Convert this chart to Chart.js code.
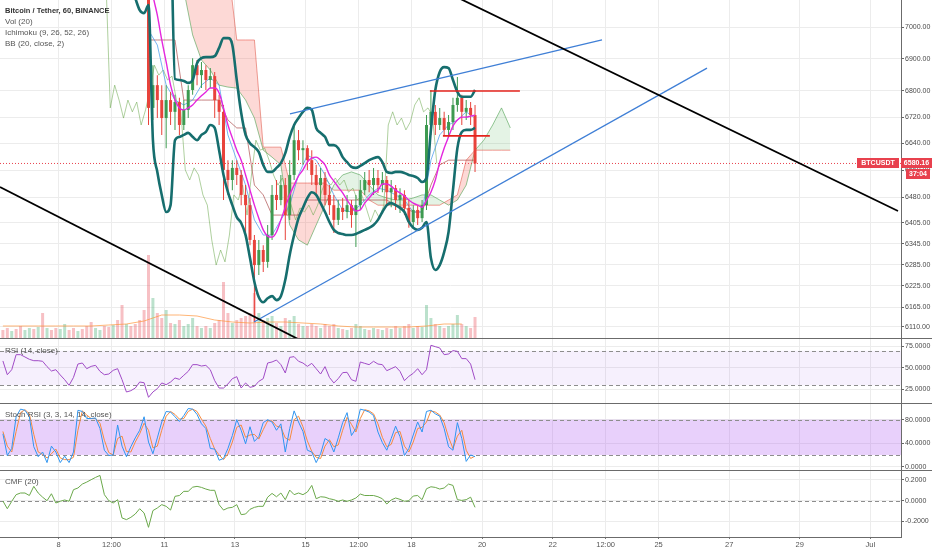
<!DOCTYPE html>
<html>
<head>
<meta charset="utf-8">
<title>BTCUSDT 60</title>
<script src="https://cdn.jsdelivr.net/npm/chart.js@4.4.1/dist/chart.umd.min.js"></script>
<style>
html,body{margin:0;padding:0;background:#ffffff;}
#wrap{position:relative;width:932px;height:550px;overflow:hidden;background:#fff;}
canvas{position:absolute;left:0;display:block;}
.sep{position:absolute;left:0;width:932px;height:1px;background:#6b6b6b;}
</style>
</head>
<body>
<div id="wrap">
<canvas id="cMain" width="932" height="338" style="top:0px"></canvas>
<div class="sep" style="top:338px"></div>
<canvas id="cRsi" width="932" height="64" style="top:339px"></canvas>
<div class="sep" style="top:403px"></div>
<canvas id="cStoch" width="932" height="66" style="top:404px"></canvas>
<div class="sep" style="top:470px"></div>
<canvas id="cCmf" width="932" height="79" style="top:471px"></canvas>
</div>
<script>
// ---------------- DATA ----------------
const FONT = '"Liberation Sans", Arial, Helvetica, sans-serif';
const X_MIN = 6.343, X_MAX = 31.867;                 // days (June), x-axis window
const xTickVals   = [8, 9.5, 11, 13, 15, 16.5, 18, 20, 22, 23.5, 25, 27, 29, 31];
const xTickLabels = ['8','12:00','11','13','15','12:00','18','20','22','12:00','25','27','29','Jul'];
const priceTicks = [7000,6900,6800,6720,6640,6560,6480,6405,6345,6285,6225,6165,6110];
const P_MIN = 6079.6, P_MAX = 7086.3;
const legendLines = ['Bitcoin / Tether, 60, BINANCE','Vol (20)','Ichimoku (9, 26, 52, 26)','BB (20, close, 2)'];
const symbol = 'BTCUSDT', lastPrice = 6580.16, countdown = '37:04';

// candles (3h buckets)
const candleStart = 10.05, candleStep = 0.125;
const open = [7600,7580,7500,7400,
 7160,6748,6818,6772,6717,6772,6736,6766,6696,6742,
 6803,6880,6849,6865,6834,6846,6772,6736,6561,6531,
 6567,6546,6487,6457,6356,6284,6327,6293,6370,6487,
 6472,6516,6428,6546,6650,6620,6626,6590,6546,6516,
 6537,6487,6457,6414,6449,6437,6457,6428,6457,6501,
 6531,6516,6537,6516,6531,6495,6507,6472,6487,6449,
 6408,6443,6419,6457,6696,6736,6696,6717,6681,6705,
 6757,6779,6736,6748,6726];
const high = [7640,7600,7520,7420,
 7180,6880,6849,6818,6818,6797,6788,6779,6772,6818,
 6902,6896,6890,6880,6871,6859,6788,6757,6590,6590,
 6590,6561,6516,6478,6370,6356,6341,6399,6516,6531,
 6546,6537,6590,6696,6681,6650,6635,6620,6576,6567,
 6555,6516,6487,6472,6478,6487,6472,6487,6531,6555,
 6561,6567,6561,6555,6543,6531,6516,6507,6501,6472,
 6457,6457,6472,6726,6803,6757,6748,6736,6726,6779,
 6843,6788,6772,6766,6757];
const low = [7560,7480,7380,7140,
 6696,6711,6717,6666,6626,6696,6681,6666,6681,6717,
 6788,6818,6809,6803,6809,6717,6696,6472,6487,6501,
 6516,6457,6370,6341,6124,6256,6264,6276,6356,6443,
 6457,6356,6414,6531,6590,6576,6561,6516,6487,6472,
 6457,6428,6376,6399,6414,6419,6391,6336,6443,6487,
 6495,6487,6493,6495,6457,6451,6443,6434,6428,6391,
 6391,6399,6408,6443,6666,6666,6681,6666,6660,6681,
 6736,6696,6711,6696,6555];
const close = [7580,7500,7400,7160,
 6748,6818,6772,6717,6772,6736,6766,6696,6742,6803,
 6880,6849,6865,6834,6846,6772,6736,6561,6531,6567,
 6546,6487,6457,6356,6284,6327,6293,6370,6487,6472,
 6516,6428,6546,6650,6620,6626,6590,6546,6516,6537,
 6487,6457,6414,6449,6437,6457,6428,6457,6501,6531,
 6516,6537,6516,6531,6495,6507,6472,6487,6449,6408,
 6443,6419,6457,6696,6736,6696,6717,6681,6705,6757,
 6779,6736,6748,6726,6580.16];

// Bollinger Bands (20, 2)
const bbStart = 10.175, bbStep = 0.125;
const bbUpper = [7400,7400,7400,7450,7500,7500,7480,7450,7350,
 6837,6834,6831,6825,6834,6886,6902,6905,6905,6908,6934,6965,6965,6943,6834,6733,6666,6641,6629,6614,
 6576,6555,6555,6567,6581,6611,6660,6696,6717,6736,6748,6742,6687,6672,6660,6635,6635,6626,6599,6584,
 6570,6567,6573,6581,6590,6596,6599,6584,6555,6552,6555,6555,6552,6546,6543,6537,6525,6537,6681,6803,
 6859,6874,6871,6834,6797,6782,6782,6782,6803];
const bbMid = [7350,7320,7280,7200,7102,7038,6959,6890,6818,
 6772,6748,6742,6748,6757,6772,6785,6797,6809,6809,6794,6748,6696,6657,6620,6590,6546,6501,6457,6419,
 6385,6367,6364,6379,6414,6451,6487,6516,6543,6561,6584,6596,6599,6590,6576,6546,6528,6510,6493,6472,
 6454,6440,6443,6463,6478,6493,6501,6519,6519,6513,6501,6493,6484,6472,6463,6457,6451,6472,6495,6531,
 6584,6626,6660,6693,6711,6720,6720,6723,6726];
const bbLower = [7092,7054,7044,7070,6650,6555,6487,6437,6457,
 6650,6660,6666,6672,6660,6650,6666,6675,6696,6687,6620,6546,6495,6457,6422,6405,6370,6304,6236,6193,
 6179,6190,6196,6185,6196,6242,6313,6370,6419,6449,6478,6495,6487,6463,6437,6408,6385,6376,6373,6370,
 6370,6373,6379,6385,6391,6399,6414,6437,6457,6463,6457,6449,6437,6408,6391,6385,6391,6408,6304,6270,
 6284,6321,6379,6501,6626,6675,6681,6681,6687];

// Ichimoku (9, 26, 52, 26) - 6h samples
const ichiStart = 10.55, ichiStep = 0.25, laggingShift = 26 / 24;
const tenkan = [6990,6943,6818,6772,6757,6772,6818,6840,6818,6666,6590,6516,6414,6370,6370,6414,6457,6546,6605,
 6590,6546,6487,6443,6437,6457,6487,6507,6501,6487,6472,6437,6437,6590,6666,6696,6711,6736,6717];
const kijun = [6959,6959,6959,6959,6772,6772,6772,6772,6772,6711,6687,6687,6516,6487,6428,6428,6428,6428,6472,
 6472,6472,6472,6472,6472,6472,6472,6472,6472,6457,6449,6437,6437,6516,6576,6590,6590,6590,6590];
const spanA = [7200,7200,7200,7200,7118,6975,6896,6865,6818,6812,6809,6772,6717,6620,6599,6576,6399,6356,6341,
 6399,6457,6516,6546,6555,6546,6516,6487,6478,6472,6472,6478,6487,6487,6472,6457,6472,6516,6620,6650,6696,6748,6687];
const spanB = [7200,7200,7200,7200,7200,7200,7200,7200,7200,7200,6959,6959,6959,6629,6629,6629,6522,6522,6522,
 6522,6522,6501,6501,6501,6501,6472,6457,6457,6457,6457,6457,6457,6457,6457,6472,6487,6590,6620,6620,6620,6620,6620];

// indicator panes - 3h samples
const indStart = 6.425, indStep = 0.125;
const volume = [8,10,7,9,12,8,10,9,11,25,10,8,10,9,14,8,10,7,9,12,16,10,8,12,11,13,18,33,14,12,14,18,28,
 83,40,25,20,28,15,14,18,12,14,20,12,10,12,10,15,18,56,25,15,18,20,22,25,45,25,18,20,22,15,
 12,20,18,22,14,12,12,14,12,10,14,12,14,10,9,8,10,14,12,9,8,10,9,8,10,9,12,10,12,14,
 10,12,11,33,20,14,12,10,12,14,23,14,12,10,21];
const volDirPre = 'ddudduudud' + 'udduuddudd' + 'duudduddud' + 'ddd';
const VOL_MAX = 338;
const volMAStart = 6.425, volMAStep = 0.5;
const volMA = [12,12,12,12,12,12,13,14,17,23,23,22,18,16,15,16,16,15,14,12,11,11,11,11,12,14,14];
const rsi = [58.2,42.2,48,65.5,65.5,62.8,60.1,58.5,58.5,57.8,51.6,46.5,48,41.9,36.4,29.8,39.1,54.6,55.8,49.2,
 51.9,53.1,46.1,42.2,43,47.3,49.2,36.4,22.1,23.6,26.7,33.7,32.9,15.9,22.1,26,32.6,30.6,33.7,38.4,
 36.8,41.5,46.1,53.9,53.9,52.3,53.1,48,35.3,26.7,26.7,31.4,37.6,39.9,26.7,32.6,27.5,28.7,34.5,37.6,
 55.8,57,59.3,53.9,44.2,62.4,63.2,57.8,55.8,51.9,55.4,49.2,43,51.6,39.1,32.6,37.6,44.6,45,36.4,
 34.5,57,55.4,53.9,57.8,54.6,53.9,46.9,49.2,51.6,46.1,35.3,40.3,43.8,49.2,42.2,48,76.4,74.8,73.3,
 65.5,66.3,70.2,69.4,60.9,60.9,54.6,36.4];
const stochK = [56,19,31,85,98,96,85,34,17,25,7,35,25,7,18,7,25,96,94,82,82,83,65,28,19,20,71,35,17,34,
 49,62,85,42,22,49,76,94,93,85,77,87,99,98,89,73,65,31,30,11,14,31,53,80,62,39,68,43,51,75,
 80,76,62,73,25,65,95,76,60,28,25,7,22,48,43,25,49,75,92,53,65,98,96,93,87,59,41,28,48,69,
 51,19,31,54,76,59,94,96,90,86,65,34,28,75,48,9,20,17];
const stochD = [60,35,25,60,92,97,90,55,25,21,15,22,30,15,12,12,16,62,95,88,82,82,74,45,24,20,48,52,26,25,
 42,56,74,62,32,35,62,86,94,89,81,82,94,98,94,81,69,48,30,20,12,22,42,67,71,50,54,55,47,63,
 78,78,69,67,49,45,80,86,68,44,26,16,14,35,46,34,37,62,84,72,59,82,97,95,90,73,50,34,38,58,
 60,35,25,42,65,67,76,95,93,88,75,50,31,52,62,28,14,18];
const cmf = [-0.003,-0.077,-0.006,0.058,0.074,0.074,0.05,0.138,0.074,0.034,0,0.067,-0.022,-0.006,0.007,-0.006,0.106,0.122,0.16,0.179,
 0.202,0.224,0.243,0.058,0,-0.022,0.01,-0.166,-0.182,-0.16,-0.128,-0.077,-0.118,-0.256,-0.095,-0.07,-0.038,-0.054,-0.09,0.042,
 0.05,0.09,0.09,0.13,0.138,0.128,0.112,0.1,0.1,-0.038,-0.09,-0.07,-0.064,-0.038,-0.134,-0.128,-0.083,-0.064,-0.054,-0.054,
 0.034,0.07,0.038,0.074,0.01,0.102,0.058,0.074,0.058,0.083,0.147,0.019,0.038,0.034,0.019,0.01,-0.006,0.007,-0.006,0.007,
 0.026,0.064,0.05,0.05,0.05,0.038,0.019,-0.032,0.007,0.026,0.013,-0.006,0,0.045,0.05,0.01,0.115,0.134,0.128,0.112,
 0.122,0.16,0.147,0.01,0.003,0.01,0.034,-0.064];
const rsiTicks = [75,50,25], rsiBand = [30,70], RSI_MIN = 9.3, RSI_MAX = 83.72;
const stochTicks = [80,40,0], stochBand = [20,80], ST_MIN = -5.62, ST_MAX = 106.7;
const cmfTicks = [0.2,0,-0.2], CMF_MIN = -0.349, CMF_MAX = 0.2856;

// drawings (time in days, price)
const trendBlack1 = [[6.343, 6510], [15.125, 6060]];
const trendBlack2 = [[19.091, 7106], [31.782, 6440]];
const trendBlue1  = [[14.558, 6730], [23.397, 6959]];
const trendBlue2  = [[13.538, 6124], [26.371, 6871]];
const levelRed1   = [[18.522, 6800], [21.071, 6800]];
const levelRed2   = [[18.89, 6663], [20.22, 6663]];

// ---------------- HELPERS ----------------
const ser = (start, step, vals) => vals.map((v, i) => ({x: start + i * step, y: v}));
const pts = arr => arr.map(p => ({x: p[0], y: p[1]}));
const C_UP = '#3d9a50', C_DN = '#e8433b', TAG = '#e8414e';
const candleT = close.map((_, i) => candleStart + i * candleStep);
const candleCol = close.map((c, i) => c >= open[i] ? C_UP : C_DN);
const volCol = volume.map((v, j) => {
  const upv = j < volDirPre.length ? volDirPre[j] === 'u' : close[j - volDirPre.length + 4] >= open[j - volDirPre.length + 4];
  return upv ? 'rgba(76,175,120,0.38)' : 'rgba(235,90,100,0.38)';
});

function xScale(showLabels) {
  return {
    type: 'linear', min: X_MIN, max: X_MAX, bounds: 'data', offset: false,
    afterBuildTicks: s => { s.ticks = xTickVals.map(v => ({value: v})); },
    afterFit: s => { s.height = showLabels ? 13 : 0; s.paddingLeft = 0; s.paddingRight = 0; },
    grid: {color: '#ececec', offset: false, drawTicks: showLabels, tickLength: 2, tickColor: '#777'},
    border: {display: showLabels, color: '#6b6b6b'},
    ticks: {display: showLabels, autoSkip: false, maxRotation: 0, padding: 1,
      font: {size: 7.5, family: FONT}, color: '#555',
      callback: (v, i) => xTickLabels[i]}
  };
}
function yScale(type, min, max, ticks, dec) {
  return {
    type, position: 'right', min, max, bounds: 'data',
    afterBuildTicks: s => { s.ticks = ticks.map(v => ({value: v})); },
    afterFit: s => { s.width = 31; s.paddingTop = 0; s.paddingBottom = 0; },
    grid: {color: '#ececec', tickLength: 3, tickColor: '#666'},
    border: {color: '#6b6b6b'},
    ticks: {autoSkip: false, padding: 1, font: {size: 7, family: FONT}, color: '#4a4a4a',
      callback: v => Number(v).toFixed(dec)}
  };
}
const baseOpts = {responsive: false, animation: false, events: [], layout: {padding: 0},
  plugins: {legend: {display: false}, tooltip: {enabled: false}}};
const line = (data, color, width, order, extra) => Object.assign({type: 'line', data, borderColor: color,
  borderWidth: width, pointRadius: 0, fill: false, order, yAxisID: 'y'}, extra || {});

// ---------------- MAIN PANE ----------------
const mainDeco = {
  id: 'mainDeco',
  afterDraw(chart) {
    const ctx = chart.ctx, ys = chart.scales.y, ca = chart.chartArea;
    ctx.save();
    ctx.textBaseline = 'middle'; ctx.textAlign = 'left';
    ctx.fillStyle = '#333'; ctx.font = 'bold 7.5px ' + FONT;
    ctx.fillText(legendLines[0], 5, 11);
    ctx.font = '8px ' + FONT; ctx.fillStyle = '#555';
    for (let k = 1; k < legendLines.length; k++) ctx.fillText(legendLines[k], 5, 11 + 11 * k);
    const py = Math.round(ys.getPixelForValue(lastPrice));
    ctx.fillStyle = TAG;
    ctx.fillRect(857, py - 5, 42, 10);
    ctx.fillRect(ca.right, py - 5, 31, 10);
    ctx.fillRect(906, py + 6, 24, 10);
    ctx.fillStyle = '#fff'; ctx.font = 'bold 7px ' + FONT; ctx.textAlign = 'center';
    ctx.fillText(symbol, 878, py + 0.5);
    ctx.fillText(lastPrice.toFixed(2), ca.right + 15.5, py + 0.5);
    ctx.fillText(countdown, 918, py + 11.5);
    ctx.restore();
  }
};

new Chart(document.getElementById('cMain'), {
  data: {datasets: [
    line(ser(ichiStart, ichiStep, spanA), 'rgba(76,160,80,0.6)', 1, 30,
      {fill: {target: 1, above: 'rgba(76,175,80,0.15)', below: 'rgba(244,80,70,0.22)'}}),
    line(ser(ichiStart, ichiStep, spanB), 'rgba(232,90,80,0.6)', 1, 31),
    {type: 'bar', data: ser(indStart, indStep, volume), yAxisID: 'yv', backgroundColor: volCol,
      grouped: false, maxBarThickness: 3, order: 25},
    line(ser(volMAStart, volMAStep, volMA), 'rgba(255,150,60,0.7)', 1, 24, {yAxisID: 'yv'}),
    line(close.map((c, i) => ({x: candleT[i] - laggingShift, y: c})), 'rgba(110,170,80,0.55)', 1, 20),
    line(ser(ichiStart, ichiStep, kijun), 'rgba(160,50,50,0.6)', 1, 19),
    line(ser(ichiStart, ichiStep, tenkan), 'rgba(60,150,235,0.7)', 1, 18),
    line([{x: X_MIN, y: lastPrice}, {x: X_MAX, y: lastPrice}], TAG, 1, 17, {borderDash: [1, 2]}),
    {type: 'bar', data: candleT.map((t, i) => ({x: t, y: [low[i], high[i]]})), yAxisID: 'y',
      backgroundColor: candleCol, grouped: false, maxBarThickness: 1, order: 12},
    {type: 'bar', data: candleT.map((t, i) => ({x: t, y: [open[i], close[i]]})), yAxisID: 'y',
      backgroundColor: candleCol, grouped: false, maxBarThickness: 3, order: 11},
    line(ser(bbStart, bbStep, bbMid), '#e426de', 1.4, 6, {cubicInterpolationMode: 'monotone'}),
    line(ser(bbStart, bbStep, bbUpper), '#166e6e', 2.6, 5, {cubicInterpolationMode: 'monotone'}),
    line(ser(bbStart, bbStep, bbLower), '#166e6e', 2.6, 5, {cubicInterpolationMode: 'monotone'}),
    line(pts(trendBlack1), '#000', 1.8, 2),
    line(pts(trendBlack2), '#000', 1.8, 2),
    line(pts(trendBlue1), '#3f7fd6', 1.3, 2),
    line(pts(trendBlue2), '#3f7fd6', 1.3, 2),
    line(pts(levelRed1), '#e5231c', 1.6, 1),
    line(pts(levelRed2), '#e5231c', 1.6, 1)
  ]},
  options: Object.assign({}, baseOpts, {
    scales: {
      x: xScale(false),
      y: yScale('logarithmic', P_MIN, P_MAX, priceTicks, 2),
      yv: {type: 'linear', display: false, min: 0, max: VOL_MAX}
    }
  }),
  plugins: [mainDeco]
});

// ---------------- INDICATOR PANES ----------------
function paneDeco(id, band, bandFill, dashVals, label, labelY) {
  return {
    id,
    beforeDatasetsDraw(chart) {
      const {ctx, chartArea: ca} = chart, y = chart.scales.y;
      ctx.save();
      if (band) {
        const y1 = y.getPixelForValue(band[1]), y2 = y.getPixelForValue(band[0]);
        ctx.fillStyle = bandFill; ctx.fillRect(ca.left, y1, ca.right - ca.left, y2 - y1);
      }
      ctx.strokeStyle = '#8d8d8d'; ctx.lineWidth = 1; ctx.setLineDash([4, 3]);
      dashVals.forEach(v => {
        const py = Math.round(y.getPixelForValue(v)) + 0.5;
        ctx.beginPath(); ctx.moveTo(ca.left, py); ctx.lineTo(ca.right, py); ctx.stroke();
      });
      ctx.restore();
    },
    afterDraw(chart) {
      const ctx = chart.ctx;
      ctx.save(); ctx.font = '8px ' + FONT; ctx.fillStyle = '#555';
      ctx.textBaseline = 'middle'; ctx.textAlign = 'left';
      ctx.fillText(label, 5, labelY); ctx.restore();
    }
  };
}

new Chart(document.getElementById('cRsi'), {
  data: {datasets: [line(ser(indStart, indStep, rsi), '#a04bc6', 1, 1)]},
  options: Object.assign({}, baseOpts, {scales: {x: xScale(false), y: yScale('linear', RSI_MIN, RSI_MAX, rsiTicks, 4)}}),
  plugins: [paneDeco('rsiDeco', rsiBand, 'rgba(160,90,230,0.09)', rsiBand, 'RSI (14, close)', 11.5)]
});

new Chart(document.getElementById('cStoch'), {
  data: {datasets: [
    line(ser(indStart, indStep, stochD), '#f58a3e', 1, 2),
    line(ser(indStart, indStep, stochK), '#2f95f0', 1, 1)
  ]},
  options: Object.assign({}, baseOpts, {scales: {x: xScale(false), y: yScale('linear', ST_MIN, ST_MAX, stochTicks, 4)}}),
  plugins: [paneDeco('stDeco', stochBand, 'rgba(170,80,240,0.27)', stochBand, 'Stoch RSI (3, 3, 14, 14, close)', 10.5)]
});

new Chart(document.getElementById('cCmf'), {
  data: {datasets: [line(ser(indStart, indStep, cmf), '#6aa84a', 1, 1)]},
  options: Object.assign({}, baseOpts, {scales: {x: xScale(true), y: yScale('linear', CMF_MIN, CMF_MAX, cmfTicks, 4)}}),
  plugins: [paneDeco('cmfDeco', null, null, [0], 'CMF (20)', 10.5)]
});
</script>
</body>
</html>
